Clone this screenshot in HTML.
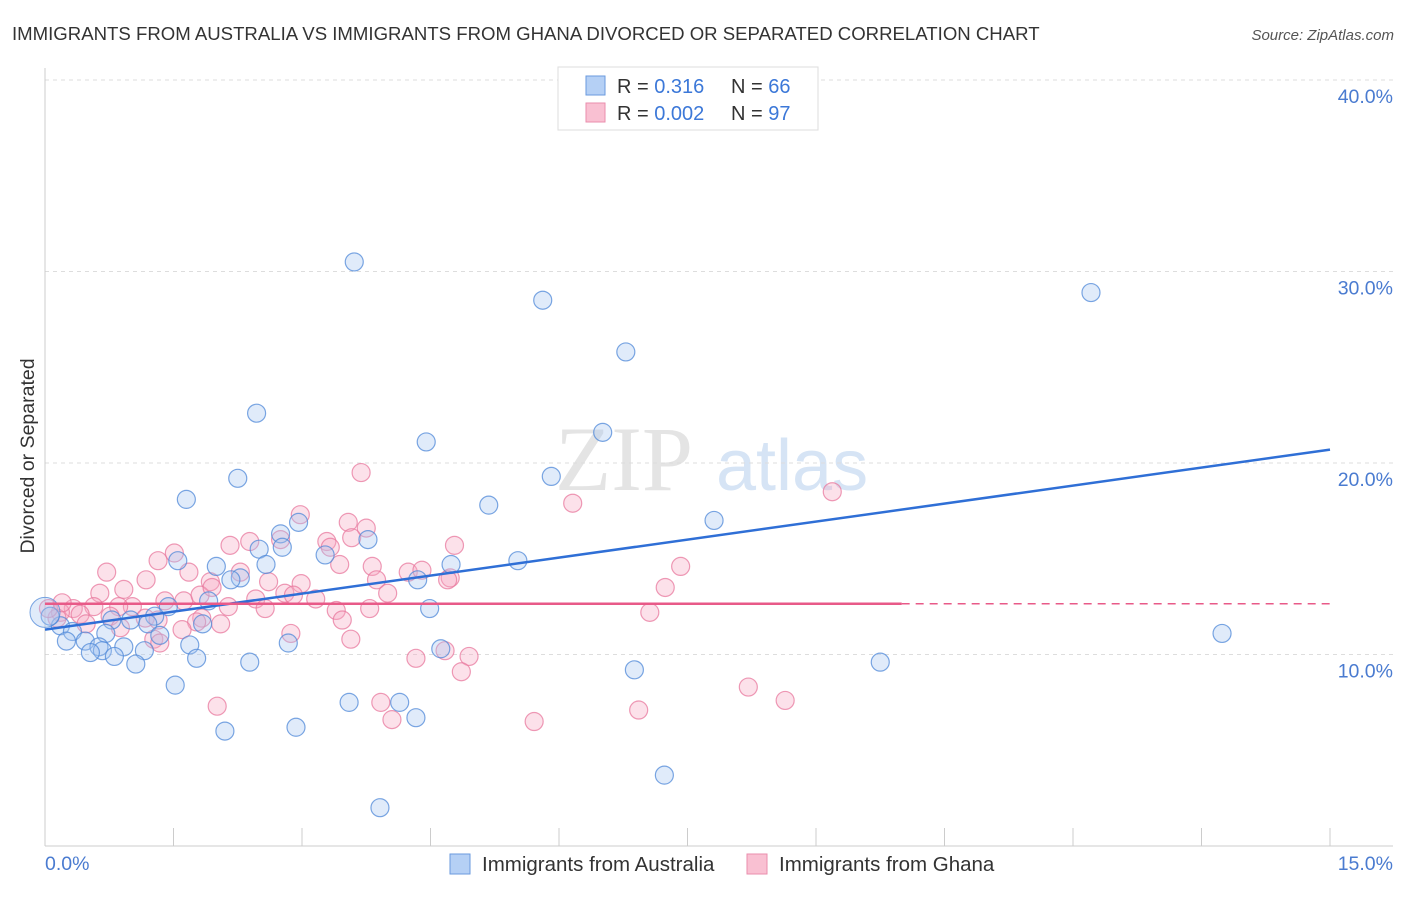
<!DOCTYPE html>
<html><head><meta charset="utf-8"><style>
body{margin:0;background:#fff;font-family:"Liberation Sans",sans-serif}
</style></head><body>
<svg id="chart" width="1406" height="892" xmlns="http://www.w3.org/2000/svg" font-family="Liberation Sans, sans-serif">
<text x="12" y="40" font-size="18.6" fill="#333">IMMIGRANTS FROM AUSTRALIA VS IMMIGRANTS FROM GHANA DIVORCED OR SEPARATED CORRELATION CHART</text>
<text x="1394" y="40" font-size="15" fill="#555" text-anchor="end" font-style="italic">Source: ZipAtlas.com</text>
<g><text x="555" y="490" font-size="92" fill="#e4e4e4" font-family="Liberation Serif, serif">ZIP</text><text x="716" y="490" font-size="72" fill="#d6e4f5">atlas</text></g>
<g id="grid"></g>
<g id="axes"></g>
<g id="marks"></g>
<text transform="translate(34,456) rotate(-90)" font-size="19.5" fill="#333" text-anchor="middle">Divorced or Separated</text>
<g>
<rect x="558" y="67" width="260" height="63" fill="#fff" stroke="#ddd"/>
<rect x="586" y="76" width="19" height="19" fill="#b5d0f5" stroke="#6a9ade"/>
<rect x="586" y="103" width="19" height="19" fill="#f9c0d2" stroke="#ea8eac"/>
<text x="617" y="93" font-size="20" fill="#333">R = <tspan fill="#3c78d8">0.316</tspan></text>
<text x="731" y="93" font-size="20" fill="#333">N = <tspan fill="#3c78d8">66</tspan></text>
<text x="617" y="120" font-size="20" fill="#333">R = <tspan fill="#3c78d8">0.002</tspan></text>
<text x="731" y="120" font-size="20" fill="#333">N = <tspan fill="#3c78d8">97</tspan></text>
</g>
<g>
<rect x="450" y="854" width="20" height="20" fill="#b5d0f5" stroke="#6a9ade"/>
<text x="482" y="871" font-size="20.5" fill="#333">Immigrants from Australia</text>
<rect x="747" y="854" width="20" height="20" fill="#f9c0d2" stroke="#ea8eac"/>
<text x="779" y="871" font-size="20.5" fill="#333">Immigrants from Ghana</text>
</g>
</svg>
<script>
const yTicks=[10,20,30,40];
const yTickLabels=["10.0%","20.0%","30.0%","40.0%"];
const xTicks=[0,1.5,3,4.5,6,7.5,9,10.5,12,13.5,15];
const xEndLabels=["0.0%","15.0%"];
const ausX=[3.61,5.81,6.78,12.21,2.47,4.45,6.51,5.91,2.25,1.65,5.18,7.81,2.96,2.75,3.77,2.77,2.50,3.27,1.55,5.52,2.00,2.58,4.74,2.28,2.17,4.35,1.91,4.49,1.44,1.28,1.00,1.20,1.84,0.78,0.18,0.32,0.71,1.34,0.47,0.25,0.63,0.92,1.69,0.67,0.53,1.16,0.81,1.77,1.06,2.39,2.84,4.62,6.88,9.75,13.74,1.52,3.55,4.14,4.33,2.10,2.93,7.23,3.91,0.06];
const ausY=[30.5,28.5,25.8,28.9,22.6,21.1,21.6,19.3,19.2,18.1,17.8,17.0,16.9,16.3,16.0,15.6,15.5,15.2,14.9,14.9,14.6,14.7,14.7,14.0,13.9,13.9,12.8,12.4,12.5,12.0,11.8,11.6,11.6,11.8,11.5,11.2,11.1,11.0,10.7,10.7,10.4,10.4,10.5,10.2,10.1,10.2,9.9,9.8,9.5,9.6,10.6,10.3,9.2,9.6,11.1,8.4,7.5,7.5,6.7,6.0,6.2,3.7,2.0,12.0];
const ghaX=[3.69,6.16,9.19,2.98,3.54,3.75,3.58,4.78,2.39,2.75,3.29,2.16,1.51,1.32,3.33,7.42,0.72,1.68,2.28,3.44,3.82,4.24,4.40,1.18,1.93,2.61,2.99,3.87,4.73,4.70,7.24,0.64,2.80,2.90,4.00,1.40,1.62,2.46,3.16,1.02,0.57,0.86,2.14,2.57,3.40,3.79,7.06,0.33,0.18,0.41,0.76,1.17,1.83,0.14,0.48,1.77,2.05,3.47,0.88,1.60,1.27,1.34,2.87,3.57,4.67,4.95,4.33,4.86,2.01,3.92,4.05,5.71,6.93,8.21,8.64,0.04,0.20,1.81,0.92,1.95,1.32];
const ghaY=[19.5,17.9,18.5,17.3,16.9,16.6,16.1,15.7,15.9,16.0,15.9,15.7,15.3,14.9,15.6,14.6,14.3,14.3,14.3,14.7,14.6,14.3,14.4,13.9,13.8,13.8,13.7,13.9,14.0,13.9,13.5,13.2,13.2,13.1,13.2,12.8,12.8,12.9,12.9,12.5,12.5,12.5,12.5,12.4,12.3,12.4,12.2,12.4,12.2,12.1,12.0,11.9,11.9,11.9,11.6,11.7,11.6,11.8,11.4,11.3,10.8,10.6,11.1,10.8,10.2,9.9,9.8,9.1,7.3,7.5,6.6,6.5,7.1,8.3,7.6,12.4,12.7,13.1,13.4,13.5,11.8];
const ausTrend=[[0,11.3],[15,20.7]];
const ghaTrend=[12.65,12.65];
const NS="http://www.w3.org/2000/svg";
const X=v=>45+v/15*1285, Y=v=>846-v*19.15;
function mk(t,a,p){const e=document.createElementNS(NS,t);for(const k in a)e.setAttribute(k,a[k]);p.appendChild(e);return e;}
const grid=document.getElementById('grid'),axes=document.getElementById('axes'),marks=document.getElementById('marks');
yTicks.forEach((t,i)=>{
 const l=mk('line',{x1:45,x2:1393,y1:Y(t),y2:Y(t),stroke:'#ddd','stroke-dasharray':'4,4'},grid);
 
 
 const tx=mk('text',{x:1393,y:Y(t)+23,'font-size':19.5,fill:'#4a7bd0','text-anchor':'end'},axes);
 tx.textContent=yTickLabels[i];
 
 
});
mk('line',{x1:45,x2:1393,y1:846,y2:846,stroke:'#ccc'},axes);
mk('line',{x1:45,x2:45,y1:68,y2:846,stroke:'#ccc'},axes);
xTicks.forEach(t=>{const l=mk('line',{x1:X(t),x2:X(t),y1:828,y2:846,stroke:'#ccc'},axes);
 
 });
[[0,'start',45],[15,'end',1393]].forEach((d,i)=>{const tx=mk('text',{x:d[2],y:870,'font-size':19.5,fill:'#4a7bd0','text-anchor':d[1]},axes);tx.textContent=xEndLabels[i];
 
 });
function pts(xs,ys,fill,stroke,name){xs.forEach((x,i)=>{const c=mk('circle',{cx:X(x),cy:Y(ys[i]),r:9,fill:fill,'fill-opacity':0.35,stroke:stroke,'stroke-opacity':0.75,'stroke-width':1.2},marks);
 
 });}
pts(ghaX,ghaY,'#f5aac2','#e8789e','ghana-point');
pts(ausX,ausY,'#a7c6f0','#4f88d8','australia-point');
const big=mk('circle',{cx:X(0),cy:Y(12.2),r:15,fill:'#a7c6f0','fill-opacity':0.35,stroke:'#4f88d8','stroke-opacity':0.75},marks);


const bl=mk('line',{x1:X(ausTrend[0][0]),y1:Y(ausTrend[0][1]),x2:X(ausTrend[1][0]),y2:Y(ausTrend[1][1]),stroke:'#2f6fd6','stroke-width':2.5},marks);


const pl=mk('line',{x1:X(0),y1:Y(ghaTrend[0]),x2:X(10),y2:Y(ghaTrend[1]),stroke:'#e85a88','stroke-width':2.5},marks);


const pd=mk('line',{x1:X(10),y1:Y(ghaTrend[1]),x2:X(15),y2:Y(ghaTrend[1]),stroke:'#e85a88','stroke-width':1.5,'stroke-dasharray':'8,6'},marks);


</script>
</body></html>
